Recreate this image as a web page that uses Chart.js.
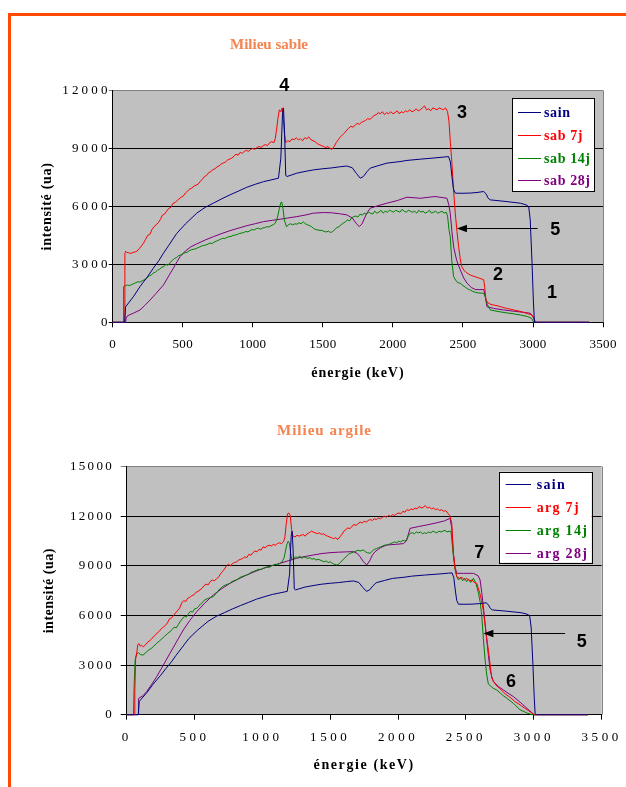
<!DOCTYPE html>
<html><head><meta charset="utf-8">
<script src="https://cdn.jsdelivr.net/npm/chart.js@4.4.1/dist/chart.umd.min.js"></script>
<style>
html,body{margin:0;padding:0;background:#fff;}
body{width:626px;height:787px;position:relative;overflow:hidden;}
#frameTop{position:absolute;left:8px;top:13px;width:618px;height:3px;background:#FF4A00;}
#frameLeft{position:absolute;left:8px;top:13px;width:3px;height:774px;background:#FF4A00;}
canvas{position:absolute;left:0;}
#c1{top:0;} #c2{top:392px;}
</style></head><body>
<div id="frameTop"></div><div id="frameLeft"></div>
<canvas id="c1" width="626" height="392"></canvas>
<canvas id="c2" width="626" height="395"></canvas>
<script>
// ---------- DATA ----------
const energyTicks = [0,500,1000,1500,2000,2500,3000,3500];
const sableTicks = [0,3000,6000,9000,12000];
const argileTicks = [0,3000,6000,9000,12000,15000];
const sableNames = ['sain','sab 7j','sab 14j','sab 28j'];
const argileNames = ['sain','arg 7j','arg 14j','arg 28j'];
const sableTitle = 'Milieu sable';
const argileTitle = 'Milieu argile';

// [energie keV, intensite ua]
const sain = [[0,0],[85,0],[92,800],[150,1350],[195,1850],[250,2380],[290,2800],[330,3200],[362,3575],[400,3980],[457,4600],[520,5100],[600,5650],[660,5950],[719,6170],[780,6400],[838,6600],[900,6800],[957,6990],[1020,7150],[1076,7280],[1130,7370],[1183,7460],[1200,8500],[1212,10800],[1219,11100],[1226,10000],[1235,7600],[1245,7550],[1314,7720],[1380,7820],[1433,7890],[1500,7950],[1560,7990],[1620,8050],[1671,8090],[1710,8000],[1740,7700],[1767,7460],[1790,7550],[1815,7800],[1838,7980],[1900,8120],[1957,8240],[2050,8320],[2100,8380],[2195,8445],[2300,8510],[2370,8560],[2397,8580],[2410,8300],[2421,7545],[2432,6900],[2445,6684],[2500,6680],[2552,6690],[2600,6720],[2648,6770],[2665,6650],[2680,6420],[2695,6337],[2800,6260],[2910,6165],[2950,6080],[2969,5990],[2980,5300],[2993,3057],[3003,1000],[3010,0],[3400,0]];

const sab7j = [[0,0],[84,0],[87,3550],[92,3680],[100,3620],[115,3600],[130,3560],[145,3620],[160,3640],[175,3700],[190,3820],[205,3950],[220,4100],[235,4300],[250,4500],[265,4550],[280,4800],[295,4950],[310,5050],[325,5150],[340,5320],[355,5550],[370,5600],[385,5750],[400,5900],[415,5950],[430,6150],[445,6200],[460,6300],[475,6400],[490,6480],[505,6550],[520,6700],[535,6800],[550,6900],[565,6950],[580,7050],[595,7100],[610,7150],[625,7300],[640,7400],[655,7550],[670,7600],[685,7750],[700,7800],[715,7900],[730,7950],[745,8050],[760,8100],[775,8200],[790,8250],[805,8300],[820,8400],[835,8450],[850,8500],[865,8600],[880,8700],[895,8650],[910,8800],[925,8750],[940,8850],[955,8900],[970,8850],[985,8950],[1000,9000],[1015,8950],[1030,9050],[1045,9100],[1060,9050],[1075,9150],[1090,9200],[1105,9150],[1120,9300],[1135,9350],[1150,9300],[1160,9500],[1170,10000],[1180,10600],[1190,11000],[1200,10900],[1210,11100],[1218,10500],[1225,9800],[1235,9300],[1250,9400],[1265,9350],[1280,9500],[1295,9450],[1310,9550],[1325,9450],[1340,9500],[1355,9400],[1370,9550],[1385,9500],[1400,9600],[1415,9450],[1430,9400],[1445,9350],[1460,9250],[1475,9200],[1490,9150],[1505,9100],[1520,9050],[1535,9100],[1550,9000],[1565,8950],[1580,9100],[1595,9300],[1610,9450],[1625,9600],[1640,9700],[1655,9800],[1670,9950],[1685,10050],[1700,10150],[1715,10100],[1730,10200],[1745,10300],[1760,10250],[1775,10350],[1790,10400],[1805,10450],[1820,10550],[1835,10500],[1850,10600],[1865,10700],[1880,10750],[1895,10850],[1910,10800],[1925,10900],[1940,10750],[1955,10850],[1970,10800],[1985,10900],[2000,10800],[2015,10850],[2030,10950],[2045,10800],[2060,10900],[2075,10850],[2090,10950],[2105,10900],[2120,11000],[2135,10900],[2150,10950],[2165,11050],[2180,10950],[2195,11000],[2210,11100],[2225,11200],[2240,11000],[2255,11050],[2270,10950],[2285,11100],[2300,11050],[2315,11000],[2330,11100],[2345,11050],[2360,11000],[2375,11100],[2390,10900],[2400,10400],[2410,9300],[2421,8240],[2433,6800],[2445,5650],[2457,4700],[2469,3917],[2480,3300],[2490,2900],[2505,2710],[2520,2600],[2535,2520],[2552,2450],[2570,2400],[2590,2350],[2610,2300],[2630,2250],[2648,2200],[2655,1800],[2664,1155],[2680,1000],[2700,920],[2719,896],[2750,850],[2780,780],[2810,720],[2840,680],[2862,637],[2900,580],[2940,500],[2970,430],[2993,378],[3005,200],[3017,0],[3400,0]];

const sab14j = [[0,0],[74,0],[78,1850],[90,1900],[105,1930],[120,1900],[135,1950],[150,2000],[165,2050],[180,2100],[195,2080],[210,2150],[225,2200],[243,2280],[260,2400],[275,2450],[290,2550],[305,2600],[320,2700],[335,2750],[350,2850],[365,2880],[380,3000],[395,2950],[410,3100],[425,3200],[440,3300],[455,3350],[470,3450],[485,3480],[500,3550],[515,3600],[530,3620],[545,3700],[560,3750],[575,3780],[590,3800],[605,3850],[620,3900],[635,3950],[650,3980],[665,4000],[680,4050],[695,4100],[710,4080],[725,4150],[740,4200],[755,4250],[770,4300],[785,4350],[800,4330],[815,4400],[830,4430],[845,4450],[860,4500],[875,4520],[890,4550],[905,4600],[920,4620],[935,4650],[950,4700],[965,4680],[980,4750],[995,4800],[1010,4780],[1025,4850],[1040,4870],[1055,4820],[1070,4880],[1085,4900],[1100,4950],[1115,4930],[1130,5000],[1145,5050],[1160,5130],[1175,5400],[1190,5900],[1200,6200],[1207,6220],[1215,5900],[1225,5300],[1240,4950],[1255,5050],[1270,5100],[1285,5050],[1300,5100],[1315,5080],[1330,5150],[1345,5100],[1360,5200],[1375,5100],[1390,5050],[1405,5000],[1420,4950],[1435,4850],[1450,4800],[1465,4780],[1480,4760],[1495,4750],[1510,4700],[1525,4680],[1540,4720],[1555,4650],[1570,4700],[1585,4800],[1600,4900],[1615,4950],[1630,5050],[1645,5130],[1660,5200],[1675,5300],[1690,5250],[1705,5400],[1720,5470],[1735,5500],[1750,5450],[1765,5600],[1780,5550],[1795,5650],[1810,5600],[1825,5700],[1840,5650],[1855,5600],[1870,5750],[1885,5650],[1900,5700],[1915,5800],[1930,5650],[1945,5750],[1960,5700],[1975,5800],[1990,5750],[2005,5700],[2020,5800],[2035,5750],[2050,5700],[2065,5850],[2080,5750],[2095,5700],[2110,5800],[2125,5750],[2140,5700],[2155,5750],[2170,5650],[2185,5800],[2200,5700],[2215,5750],[2230,5650],[2245,5700],[2260,5800],[2275,5650],[2290,5700],[2305,5750],[2320,5650],[2335,5700],[2350,5750],[2365,5650],[2380,5700],[2390,5500],[2400,4800],[2409,4435],[2420,3200],[2433,2363],[2450,2150],[2465,2050],[2481,2020],[2500,1900],[2520,1800],[2540,1700],[2552,1673],[2570,1600],[2590,1550],[2610,1520],[2630,1510],[2648,1500],[2660,1300],[2675,900],[2695,637],[2750,560],[2800,500],[2850,450],[2910,378],[2960,300],[2990,200],[3005,0],[3400,0]];

const sab28j = [[0,0],[92,0],[96,200],[105,336],[150,480],[195,637],[230,880],[267,1155],[310,1500],[362,1930],[400,2400],[433,2800],[460,3150],[481,3400],[520,3700],[560,3920],[600,4057],[660,4260],[719,4435],[780,4600],[838,4745],[900,4880],[957,5000],[1020,5110],[1076,5210],[1140,5280],[1195,5337],[1250,5400],[1314,5470],[1380,5560],[1433,5650],[1505,5683],[1560,5670],[1620,5620],[1671,5560],[1710,5400],[1740,5100],[1760,4955],[1780,5100],[1810,5600],[1838,5907],[1900,6050],[1957,6165],[2030,6300],[2100,6476],[2150,6450],[2195,6420],[2250,6470],[2300,6510],[2350,6460],[2386,6420],[2398,6100],[2409,5650],[2421,4700],[2433,3917],[2455,3200],[2481,2710],[2505,2300],[2529,2020],[2560,1800],[2588,1700],[2620,1690],[2648,1700],[2660,1300],[2671,808],[2720,720],[2790,637],[2880,560],[2950,500],[2981,466],[3000,300],[3017,0],[3400,0]];

const arg7j = [[0,0],[55,0],[60,1500],[66,3400],[75,3800],[82,4250],[90,4300],[100,4150],[110,4200],[122,4100],[135,4200],[150,4350],[165,4450],[180,4550],[195,4700],[210,4800],[225,4950],[240,5050],[255,5200],[270,5300],[285,5400],[300,5550],[315,5800],[330,5850],[345,6000],[360,6150],[375,6300],[390,6450],[405,6750],[420,6900],[435,6850],[450,7050],[465,7100],[480,7200],[495,7250],[510,7400],[525,7450],[540,7550],[555,7650],[570,7800],[585,7900],[600,7850],[615,8050],[630,8150],[645,8100],[660,8200],[675,8300],[690,8500],[705,8650],[720,8800],[735,9000],[750,9100],[765,9000],[780,9150],[795,9200],[810,9250],[825,9350],[840,9400],[855,9450],[870,9550],[885,9500],[900,9700],[915,9650],[930,9800],[945,9900],[960,9850],[975,10000],[990,9950],[1005,10150],[1020,10100],[1035,10200],[1050,10250],[1065,10200],[1080,10300],[1095,10250],[1110,10350],[1125,10400],[1140,10350],[1155,10450],[1165,10700],[1175,11500],[1185,12150],[1195,12200],[1205,12050],[1215,11200],[1225,10800],[1240,10750],[1255,10850],[1270,10800],[1285,10850],[1300,10900],[1315,10800],[1330,10950],[1345,11000],[1360,11100],[1375,11050],[1390,11000],[1405,10950],[1420,11000],[1435,10900],[1450,10950],[1465,10850],[1480,10800],[1495,10750],[1510,10700],[1525,10650],[1540,10700],[1555,10600],[1570,10750],[1585,10900],[1600,11100],[1615,11200],[1630,11300],[1645,11250],[1660,11400],[1675,11500],[1690,11450],[1705,11550],[1720,11650],[1735,11600],[1750,11700],[1765,11650],[1780,11750],[1795,11800],[1810,11750],[1825,11850],[1840,11800],[1855,11900],[1870,11850],[1885,11950],[1900,12000],[1915,11950],[1930,12050],[1945,12000],[1960,12100],[1975,12050],[1990,12150],[2005,12200],[2020,12150],[2035,12300],[2050,12250],[2065,12400],[2080,12350],[2095,12450],[2110,12400],[2125,12500],[2140,12450],[2155,12600],[2170,12500],[2185,12550],[2200,12650],[2215,12500],[2230,12550],[2245,12450],[2260,12500],[2275,12400],[2290,12450],[2305,12350],[2320,12400],[2335,12300],[2350,12350],[2365,12200],[2380,12050],[2395,11600],[2407,9762],[2420,8800],[2432,8350],[2450,8250],[2470,8300],[2490,8150],[2506,8250],[2525,8100],[2545,8150],[2560,8000],[2579,7950],[2600,7400],[2615,6900],[2628,6300],[2650,4800],[2665,3900],[2690,2200],[2720,1800],[2760,1500],[2790,1250],[2825,1050],[2860,800],[2898,600],[2930,400],[2960,250],[2985,100],[3002,0],[3400,0]];

const arg14j = [[0,0],[50,0],[54,1500],[62,3300],[75,3700],[86,3750],[100,3650],[112,3620],[122,3613],[140,3750],[160,3900],[180,4000],[200,4150],[221,4318],[240,4450],[260,4600],[280,4750],[300,4900],[319,5023],[335,5150],[350,5300],[365,5250],[380,5450],[395,5650],[410,5800],[425,5950],[440,5900],[455,6100],[470,6250],[485,6200],[500,6400],[516,6432],[530,6550],[545,6700],[560,6800],[575,6950],[590,7000],[605,7050],[620,7100],[638,7140],[655,7300],[670,7450],[685,7600],[700,7700],[715,7800],[730,7850],[745,7900],[761,7945],[775,8050],[790,8100],[805,8150],[820,8200],[835,8300],[850,8350],[865,8400],[884,8449],[900,8500],[915,8600],[930,8650],[945,8700],[960,8750],[975,8800],[990,8780],[1007,8852],[1020,8900],[1035,8950],[1050,8900],[1065,9000],[1080,9050],[1095,9100],[1110,9050],[1130,9157],[1145,9250],[1160,9500],[1170,9900],[1180,10300],[1190,10500],[1198,10400],[1206,9900],[1216,9357],[1230,9450],[1245,9550],[1260,9500],[1275,9600],[1290,9450],[1305,9550],[1320,9500],[1335,9450],[1350,9500],[1365,9400],[1380,9450],[1395,9350],[1410,9400],[1424,9357],[1440,9300],[1455,9250],[1470,9300],[1485,9200],[1500,9250],[1515,9150],[1530,9100],[1547,9055],[1560,9100],[1575,9200],[1590,9350],[1605,9450],[1620,9600],[1635,9700],[1646,9762],[1660,9800],[1675,9850],[1690,9900],[1705,9950],[1720,9900],[1744,9964],[1760,9850],[1775,9800],[1793,9762],[1810,9900],[1825,10000],[1840,10050],[1855,10100],[1870,10150],[1885,10200],[1900,10250],[1916,10265],[1930,10300],[1945,10350],[1960,10400],[1975,10450],[1990,10400],[2005,10500],[2020,10450],[2035,10550],[2050,10500],[2063,10568],[2075,10800],[2088,10970],[2105,11000],[2120,10950],[2135,11050],[2150,11000],[2165,11050],[2180,10950],[2195,11000],[2210,10970],[2225,11050],[2240,11000],[2255,11100],[2270,11050],[2285,11000],[2300,11100],[2315,11050],[2330,11100],[2345,11150],[2360,11050],[2375,11100],[2390,11070],[2400,10200],[2410,9400],[2420,8800],[2432,8350],[2445,8147],[2460,8300],[2475,8100],[2490,8250],[2505,8050],[2520,8200],[2535,8000],[2555,8250],[2575,7900],[2592,7340],[2605,6800],[2616,6000],[2628,4600],[2641,3300],[2653,2400],[2665,1850],[2700,1600],[2727,1494],[2775,1150],[2800,1000],[2850,680],[2898,300],[2950,100],[2985,0],[3400,0]];

const arg28j = [[0,0],[84,0],[88,990],[120,1150],[147,1393],[185,1850],[221,2300],[270,3000],[319,3714],[370,4450],[417,5124],[465,5700],[516,6230],[575,6750],[638,7240],[700,7620],[761,7945],[820,8200],[884,8449],[945,8660],[1007,8852],[1070,9010],[1130,9157],[1190,9310],[1252,9460],[1315,9570],[1375,9660],[1440,9750],[1498,9800],[1560,9830],[1620,9850],[1670,9863],[1700,9750],[1719,9560],[1745,9250],[1768,9055],[1790,9300],[1810,9650],[1830,9863],[1870,10100],[1916,10265],[1980,10300],[2039,10350],[2060,10500],[2075,10900],[2088,11270],[2150,11380],[2210,11473],[2280,11600],[2340,11720],[2382,11875],[2395,11300],[2407,9762],[2420,8900],[2432,8550],[2480,8550],[2555,8550],[2590,8400],[2604,8147],[2616,7400],[2628,6532],[2641,5500],[2653,4520],[2665,3600],[2678,2704],[2690,2300],[2702,1998],[2740,1700],[2776,1494],[2810,1300],[2850,1090],[2900,750],[2950,380],[3002,0],[3400,0]];

// annotation labels in data coordinates [energie, intensite, text]
const sableNotes = [[1224,12243,'4'],[2493,10829,'3'],[3159,4782,'5'],[2750,2451,'2'],[3136,1503,'1']];
const sableArrow = [3033,2457,4902];   // from energie, to energie, at intensite
const argileNotes = [[2598,9762,'7'],[3353,4415,'5'],[2832,1996,'6']];
const argileArrow = [3230,2628,4923];

// ---------- STYLE ----------
const seriesColors = ['#000080','#FF0000','#008000','#800080'];
const SERIF = '"Liberation Serif", "Times New Roman", serif';

function toXY(arr){ return arr.map(p => ({x:p[0], y:p[1]})); }

function makeDecor(cfg){
  return {
    id: 'decor',
    beforeDraw(chart){
      const {ctx, chartArea:a} = chart;
      ctx.save();
      ctx.fillStyle = '#C0C0C0';
      ctx.fillRect(a.left, a.top, a.right - a.left, a.bottom - a.top);
      ctx.restore();
      ['x','y'].forEach(id => {
        const s = chart.scales[id];
        if (!s || s.__sp) return;
        s.__sp = true;
        const sp = cfg.spacing[id];
        const dl = s.drawLabels, dt = s.drawTitle;
        s.drawLabels = function(ca){ ctx.save(); ctx.letterSpacing = sp.labels + 'px'; dl.call(this, ca); ctx.restore(); };
        s.drawTitle = function(){ ctx.save(); ctx.letterSpacing = sp.title + 'px'; dt.call(this); ctx.restore(); };
      });
    },
    afterDraw(chart){
      const {ctx, chartArea:a, scales:{x, y}} = chart;
      ctx.save();
      // right plot border
      ctx.strokeStyle = '#808080'; ctx.lineWidth = 1;
      const rx = Math.round(a.right) + 0.5;
      ctx.beginPath(); ctx.moveTo(rx, a.top); ctx.lineTo(rx, a.bottom); ctx.stroke();
      // chart title
      ctx.letterSpacing = cfg.titleSpacing + 'px';
      ctx.font = 'bold 15px ' + SERIF;
      ctx.fillStyle = '#F5834F';
      ctx.textAlign = 'center'; ctx.textBaseline = 'middle';
      ctx.fillText(cfg.title, cfg.titlePos[0] + cfg.titleSpacing/2, cfg.titlePos[1]);
      // legend
      const L = cfg.legend;
      ctx.letterSpacing = '0px';
      ctx.fillStyle = '#FFFFFF';
      ctx.fillRect(L.box[0], L.box[1], L.box[2]-L.box[0], L.box[3]-L.box[1]);
      ctx.strokeStyle = '#000'; ctx.lineWidth = 1;
      ctx.strokeRect(Math.round(L.box[0])+0.5, Math.round(L.box[1])+0.5, Math.round(L.box[2]-L.box[0]), Math.round(L.box[3]-L.box[1]));
      ctx.letterSpacing = L.spacing + 'px';
      ctx.font = 'bold 14px ' + SERIF;
      ctx.textAlign = 'left';
      chart.data.datasets.forEach((ds, i) => {
        const yy = Math.round(L.rows[i]) + 0.5;
        ctx.strokeStyle = ds.borderColor; ctx.lineWidth = 1;
        ctx.beginPath(); ctx.moveTo(L.line[0], yy); ctx.lineTo(L.line[1], yy); ctx.stroke();
        ctx.fillStyle = ds.borderColor;
        ctx.fillText(ds.label, L.textX, L.rows[i] + 1);
      });
      // notes
      ctx.letterSpacing = '0px';
      ctx.font = 'bold 18px "Liberation Sans", Arial, sans-serif';
      ctx.fillStyle = '#000'; ctx.textAlign = 'center'; ctx.textBaseline = 'middle';
      cfg.notes.forEach(n => ctx.fillText(n[2], x.getPixelForValue(n[0]), y.getPixelForValue(n[1])));
      // arrow
      const ar = cfg.arrow;
      const x1 = x.getPixelForValue(ar[0]), x2 = x.getPixelForValue(ar[1]), yy = Math.round(y.getPixelForValue(ar[2])) + 0.5;
      ctx.strokeStyle = '#000'; ctx.lineWidth = 1.2;
      ctx.beginPath(); ctx.moveTo(x1, yy); ctx.lineTo(x2 + 8, yy); ctx.stroke();
      ctx.beginPath(); ctx.moveTo(x2, yy); ctx.lineTo(x2 + 10, yy - 3.8); ctx.lineTo(x2 + 10, yy + 3.8); ctx.closePath(); ctx.fill();
      ctx.restore();
    }
  };
}

function makeChart(canvasId, names, series, yTicks, geo, decorCfg){
  const yMax = yTicks[yTicks.length - 1];
  return new Chart(document.getElementById(canvasId), {
    type: 'scatter',
    data: {
      datasets: series.map((s, i) => ({
        label: names[i], data: toXY(s), showLine: true, borderColor: seriesColors[i],
        backgroundColor: seriesColors[i], borderWidth: 1, pointRadius: 0, tension: 0, clip: false
      }))
    },
    options: {
      responsive: false, animation: false, devicePixelRatio: 1, events: [],
      layout: { padding: geo.padding },
      plugins: { legend: {display:false}, title: {display:false}, tooltip: {enabled:false} },
      scales: {
        x: {
          type: 'linear', min: 0, max: 3500,
          afterBuildTicks: s => { s.ticks = energyTicks.map(v => ({value: v})); },
          afterFit: s => { s.height = geo.xHeight; },
          grid: { drawOnChartArea: false, drawTicks: true, tickLength: 5, color: '#000' },
          border: { display: true, color: '#000', width: 1 },
          ticks: { color: '#000', font: {family: SERIF, size: 13}, padding: geo.xTickPad, maxRotation: 0, autoSkip: false, callback: v => String(v) },
          title: { display: true, text: 'énergie (keV)', color: '#000', font: {family: SERIF, size: 14, weight: 'bold'}, padding: {top: 0, bottom: 0} }
        },
        y: {
          type: 'linear', min: 0, max: yMax,
          afterBuildTicks: s => { s.ticks = yTicks.map(v => ({value: v})); },
          afterFit: s => { s.width = geo.yWidth; },
          grid: { drawOnChartArea: true, drawTicks: true, tickLength: geo.yTickLen,
                  color: c => (c.tick && c.tick.value === yMax) ? '#808080' : '#000' },
          border: { display: true, color: '#000', width: 1 },
          ticks: { color: '#000', font: {family: SERIF, size: 13}, padding: geo.yTickPad, autoSkip: false, callback: v => String(v) },
          title: { display: true, text: 'intensité (ua)', color: '#000', font: {family: SERIF, size: 14, weight: 'bold'}, padding: {top: geo.yTitlePad, bottom: 0} }
        }
      }
    },
    plugins: [makeDecor(decorCfg)]
  });
}

makeChart('c1', sableNames, [sain, sab7j, sab14j, sab28j], sableTicks,
  { padding: {left: 0, top: 90.5, right: 21.7, bottom: 10.6}, xHeight: 59.1, yWidth: 112.7,
    xTickPad: 9.9, yTickLen: 4, yTickPad: -2, yTitlePad: 38.6 },
  { title: sableTitle, titlePos: [269, 45], titleSpacing: 0,
    spacing: { x: {labels: 0.3, title: 1}, y: {labels: 3.2, title: 0.7} },
    legend: { box: [512, 98, 594, 191], rows: [112, 135, 158, 180], line: [518, 541], textX: 544, spacing: 0.6 },
    notes: sableNotes, arrow: sableArrow });

makeChart('c2', argileNames, [sain, arg7j, arg14j, arg28j], argileTicks,
  { padding: {left: 0, top: 74.7, right: 24.3, bottom: 12.9}, xHeight: 59.4, yWidth: 126.7,
    xTickPad: 10.5, yTickLen: 6, yTickPad: 6.7, yTitlePad: 40.6 },
  { title: argileTitle, titlePos: [324, 39], titleSpacing: 1,
    spacing: { x: {labels: 3.6, title: 1.6}, y: {labels: 2.3, title: 0.5} },
    legend: { box: [499, 79.7, 591.7, 170.7], rows: [92.3, 115.3, 138, 161.3], line: [505.7, 531], textX: 536.7, spacing: 1.3 },
    notes: argileNotes, arrow: argileArrow });
</script>
</body></html>
